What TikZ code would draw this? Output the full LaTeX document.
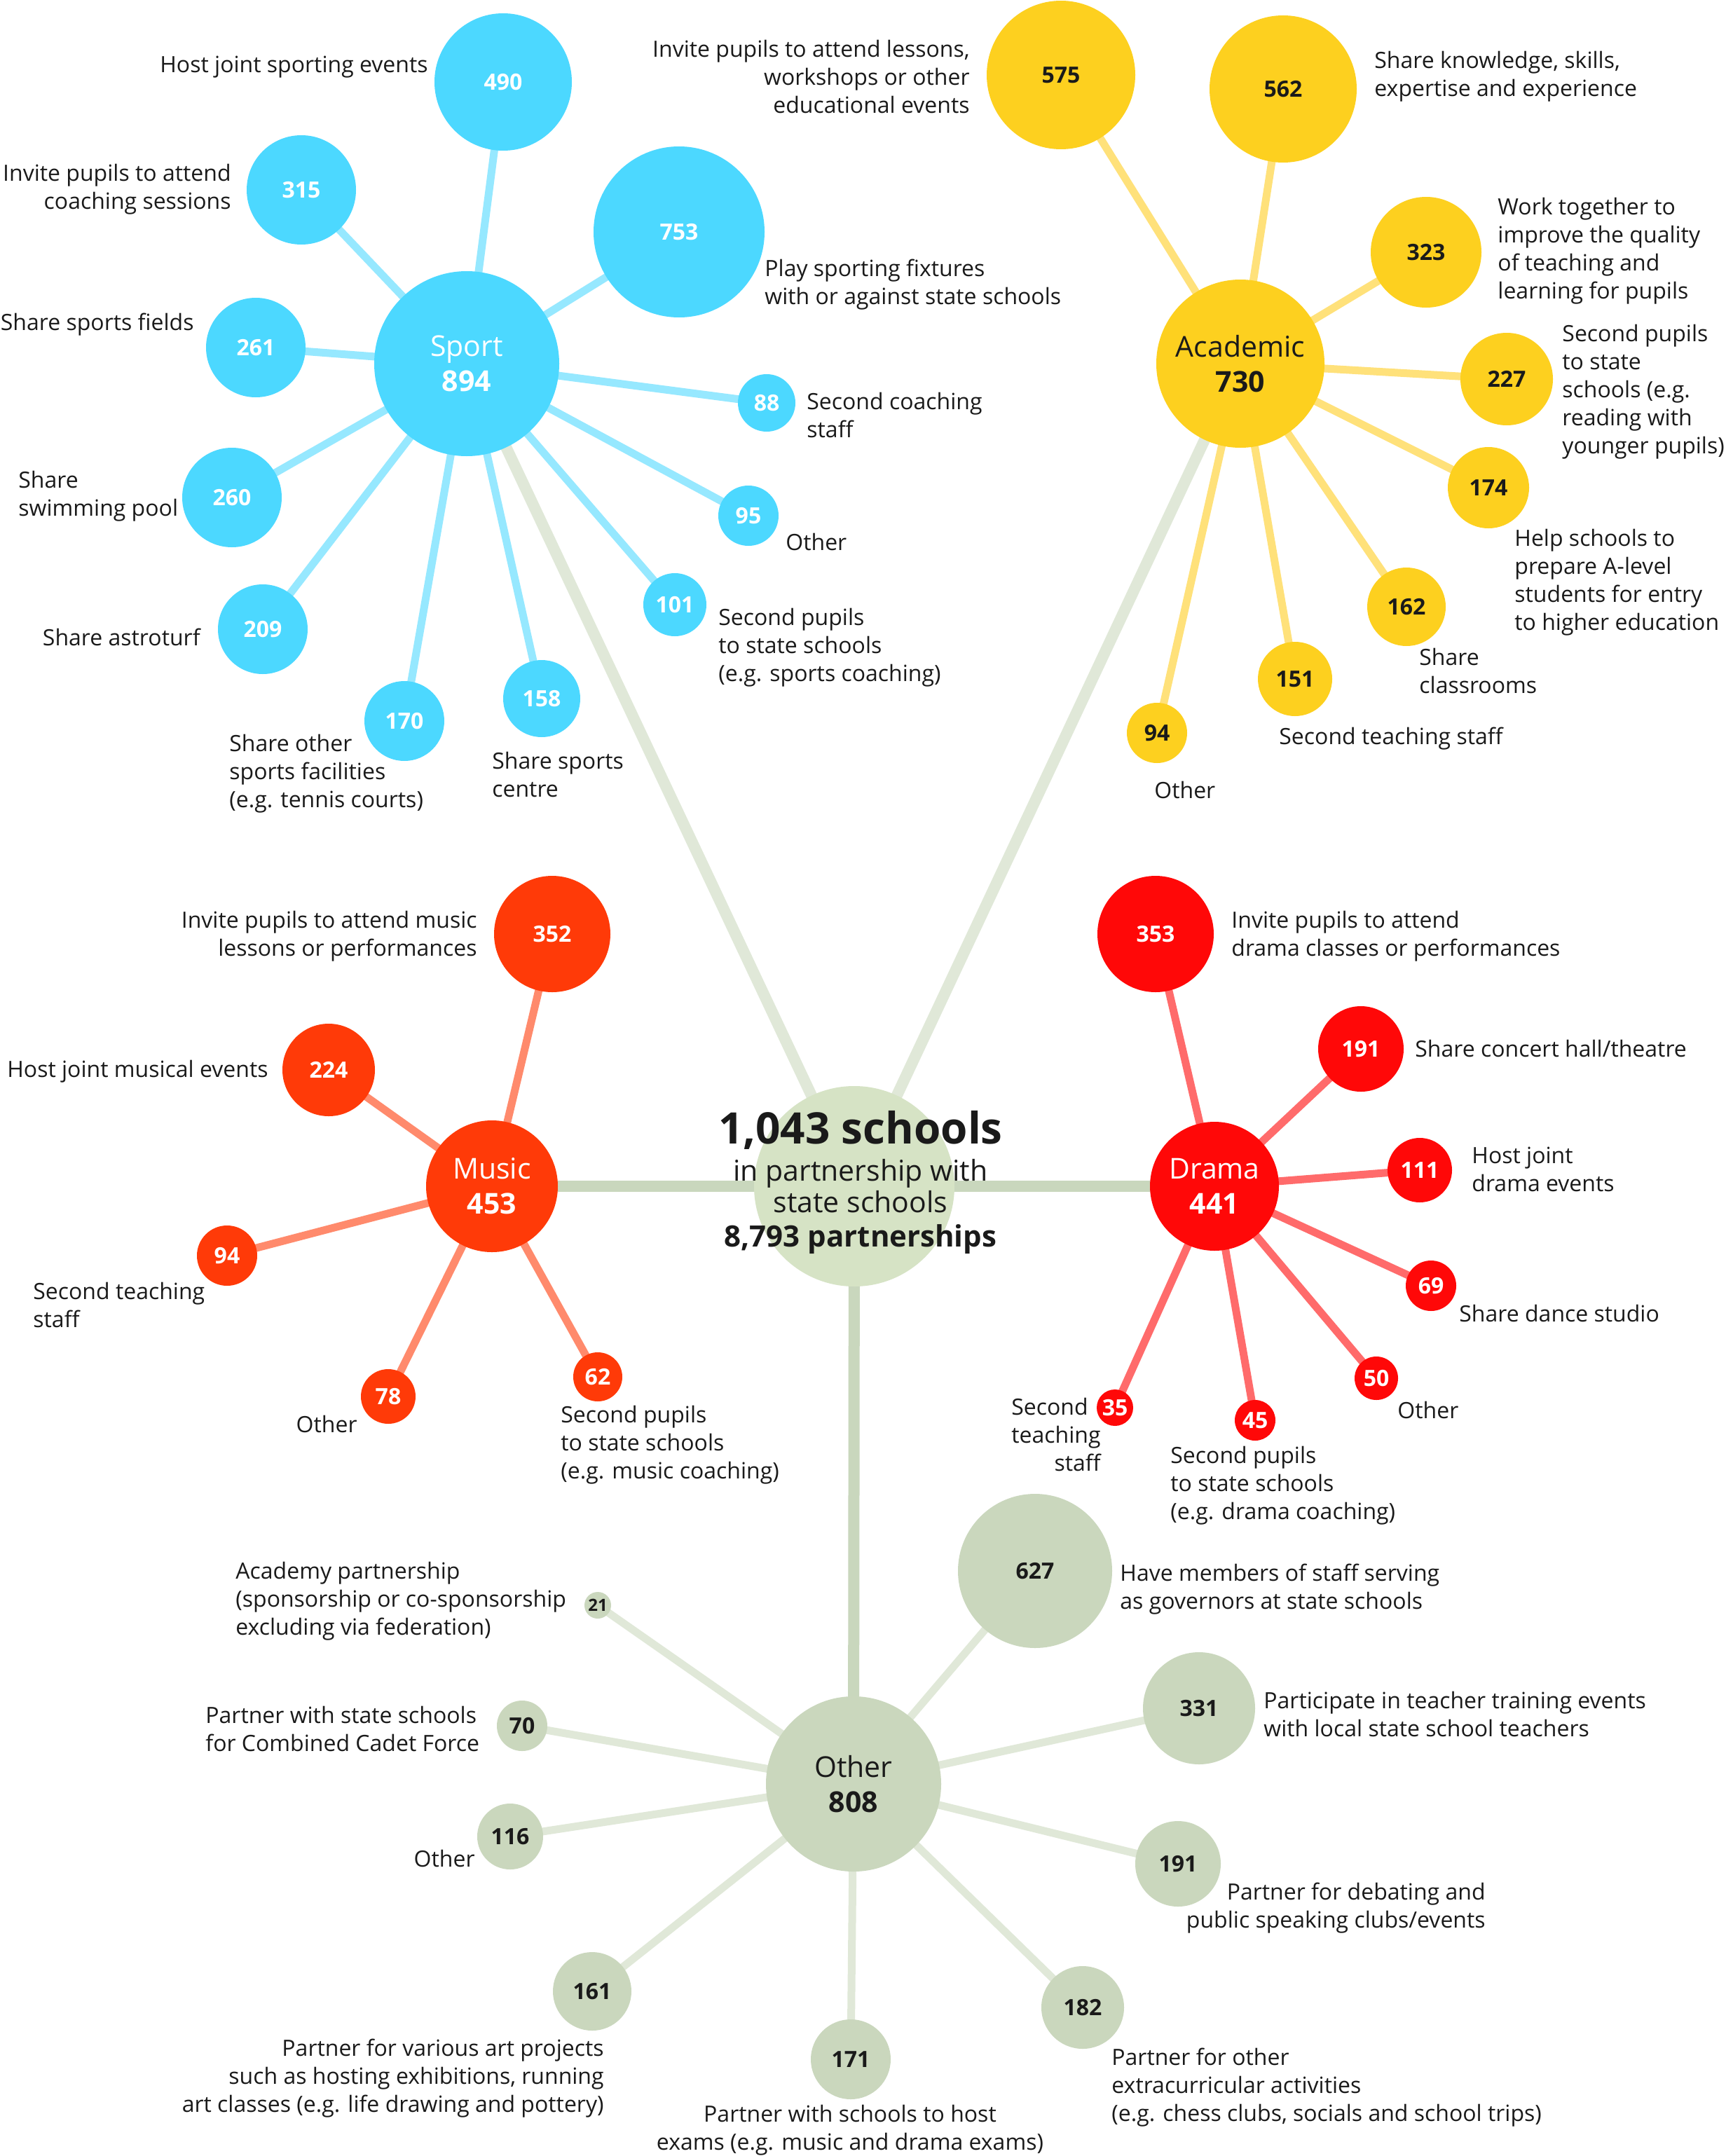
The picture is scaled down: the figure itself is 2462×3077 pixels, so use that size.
\documentclass[tikz,border=0pt]{standalone}
\usepackage{fontspec}
\setmainfont{Open Sans}
\usetikzlibrary{backgrounds}
\definecolor{sportc}{HTML}{4CD8FF}
\definecolor{sportl}{HTML}{96E8FF}
\definecolor{acadc}{HTML}{FDD01F}
\definecolor{acadl}{HTML}{FFE17A}
\definecolor{musicc}{HTML}{FF3A08}
\definecolor{musicl}{HTML}{FF8A6C}
\definecolor{dramac}{HTML}{FF0808}
\definecolor{dramal}{HTML}{FF6B6B}
\definecolor{otherc}{HTML}{CAD7BD}
\definecolor{otherl}{HTML}{E0E8D8}
\definecolor{centerc}{HTML}{D6E3C5}
\definecolor{conndark}{HTML}{C9D7BD}
\definecolor{connlight}{HTML}{E0E8D8}
\definecolor{txt}{HTML}{1A1A1A}
\begin{document}
\begin{tikzpicture}[x=0.5pt,y=-0.5pt,
  lab/.style={font=\fontsize{16}{20}\selectfont, inner sep=0pt, text=txt, yshift=-2pt},
  bub/.style={circle, inner sep=0pt, font=\fontsize{16}{20}\selectfont\bfseries},
  hubnode/.style={circle, inner sep=0pt, align=center, font=\fontsize{20.5}{25}\selectfont},
  sportb/.style={bub, fill=sportc, text=white},
  acadb/.style={bub, fill=acadc, text=txt},
  musicb/.style={bub, fill=musicc, text=white},
  dramab/.style={bub, fill=dramac, text=white},
  otherb/.style={bub, fill=otherc, text=txt},
  spoke/.style={line width=5.5pt},
  conn/.style={line width=8pt}
]
\useasboundingbox (0,0) rectangle (2462,3077);

% ---------- centre ----------
\node[circle, fill=centerc, minimum size=143pt, inner sep=0pt] (center) at (1219,1693) {};
\node[anchor=base, inner sep=0pt, text=txt, font=\fontsize{31}{36}\selectfont\bfseries] (c1) at (1228,1632) {1,043 schools};
\node[anchor=base, inner sep=0pt, text=txt, font=\fontsize{20.5}{25}\selectfont] (c2) at (1228,1685) {in partnership with};
\node[anchor=base, inner sep=0pt, text=txt, font=\fontsize{20.5}{25}\selectfont] (c3) at (1228,1730) {state schools};
\node[anchor=base, inner sep=0pt, text=txt, font=\fontsize{21}{25}\selectfont\bfseries] (c4) at (1228,1779) {8,793 partnerships};

% ---------- Sport ----------
\node[hubnode, fill=sportc, text=white, minimum size=132pt] (sport) at (666,519) {Sport\\\textbf{894}};
\node[sportb, minimum size=98pt] (s490) at (718,117) {490};
\node[sportb, minimum size=78pt] (s315) at (430,271) {315};
\node[sportb, minimum size=122pt] (s753) at (969,331) {753};
\node[sportb, minimum size=71pt] (s261) at (365,496) {261};
\node[sportb, minimum size=41pt] (s88) at (1094,575) {88};
\node[sportb, minimum size=71pt] (s260) at (331,710) {260};
\node[sportb, minimum size=43pt] (s95) at (1068,736) {95};
\node[sportb, minimum size=64pt] (s209) at (375,898) {209};
\node[sportb, minimum size=45pt] (s101) at (963,863) {101};
\node[sportb, minimum size=57pt] (s170) at (577,1029) {170};
\node[sportb, minimum size=55pt] (s158) at (773,997) {158};

\node[lab, anchor=east] (ls490) at (611,92) {Host joint sporting events};
\node[lab, anchor=east, align=right] (ls315) at (330,266) {Invite pupils to attend\\coaching sessions};
\node[lab, anchor=east] (ls261) at (277,459) {Share sports fields};
\node[lab, anchor=west, align=left] (ls260) at (26,704) {Share\\swimming pool};
\node[lab, anchor=east] (ls209) at (286,905) {Share astroturf};
\node[lab, anchor=west, align=left] (ls170) at (327,1100) {Share other\\sports facilities\\(e.g. tennis courts)};
\node[lab, anchor=west, align=left] (ls158) at (702,1101) {Share sports\\centre};
\node[lab, anchor=west, align=left] (ls753) at (1091,402) {Play sporting fixtures\\with or against state schools};
\node[lab, anchor=west, align=left] (ls88) at (1151,588) {Second coaching\\staff};
\node[lab, anchor=west] (ls95) at (1121,769) {Other};
\node[lab, anchor=west, align=left] (ls101) at (1025,920) {Second pupils\\to state schools\\(e.g. sports coaching)};

% ---------- Academic ----------
\node[hubnode, fill=acadc, text=txt, minimum size=120pt] (acad) at (1770,519) {Academic\\\textbf{730}};
\node[acadb, minimum size=106pt] (a575) at (1514,107) {575};
\node[acadb, minimum size=105pt] (a562) at (1831,127) {562};
\node[acadb, minimum size=79pt] (a323) at (2035,360) {323};
\node[acadb, minimum size=66pt] (a227) at (2150,541) {227};
\node[acadb, minimum size=58pt] (a174) at (2124,696) {174};
\node[acadb, minimum size=56pt] (a162) at (2007,866) {162};
\node[acadb, minimum size=53pt] (a151) at (1848,969) {151};
\node[acadb, minimum size=43pt] (a94) at (1651,1046) {94};

\node[lab, anchor=east, align=right] (la575) at (1384,106) {Invite pupils to attend lessons,\\workshops or other\\educational events};
\node[lab, anchor=west, align=left] (la562) at (1961,105) {Share knowledge, skills,\\expertise and experience};
\node[lab, anchor=west, align=left] (la323) at (2137,354) {Work together to\\improve the quality\\of teaching and\\learning for pupils};
\node[lab, anchor=west, align=left] (la227) at (2229,555) {Second pupils\\to state\\schools (e.g.\\reading with\\younger pupils)};
\node[lab, anchor=west, align=left] (la174) at (2161,827) {Help schools to\\prepare A-level\\students for entry\\to higher education};
\node[lab, anchor=west, align=left] (la162) at (2025,953) {Share\\classrooms};
\node[lab, anchor=west] (la151) at (1825,1050) {Second teaching staff};
\node[lab, anchor=west] (la94) at (1647,1123) {Other};

% ---------- Music ----------
\node[hubnode, fill=musicc, text=white, minimum size=94pt] (music) at (702,1693) {Music\\\textbf{453}};
\node[musicb, minimum size=83pt] (m352) at (788,1333) {352};
\node[musicb, minimum size=66pt] (m224) at (469,1527) {224};
\node[musicb, minimum size=43pt] (m94) at (324,1792) {94};
\node[musicb, minimum size=39pt] (m78) at (554,1993) {78};
\node[musicb, minimum size=35pt] (m62) at (853,1965) {62};

\node[lab, anchor=east, align=right] (lm352) at (681,1332) {Invite pupils to attend music\\lessons or performances};
\node[lab, anchor=east] (lm224) at (383,1525) {Host joint musical events};
\node[lab, anchor=west, align=left] (lm94) at (47,1858) {Second teaching\\staff};
\node[lab, anchor=east] (lm78) at (510,2028) {Other};
\node[lab, anchor=west, align=left] (lm62) at (800,2058) {Second pupils\\to state schools\\(e.g. music coaching)};

% ---------- Drama ----------
\node[hubnode, fill=dramac, text=white, minimum size=92pt] (drama) at (1733,1693) {Drama\\\textbf{441}};
\node[dramab, minimum size=83pt] (d353) at (1649,1333) {353};
\node[dramab, minimum size=61pt] (d191) at (1942,1497) {191};
\node[dramab, minimum size=46pt] (d111) at (2026,1670) {111};
\node[dramab, minimum size=36pt] (d69) at (2042,1835) {69};
\node[dramab, minimum size=31pt] (d50) at (1964,1967) {50};
\node[dramab, minimum size=29pt] (d45) at (1791,2027) {45};
\node[dramab, minimum size=26pt] (d35) at (1591,2009) {35};

\node[lab, anchor=west, align=left] (ld353) at (1757,1332) {Invite pupils to attend\\drama classes or performances};
\node[lab, anchor=west] (ld191) at (2019,1492) {Share concert hall/theatre};
\node[lab, anchor=west, align=left] (ld111) at (2100,1665) {Host joint\\drama events};
\node[lab, anchor=west] (ld69) at (2082,1870) {Share dance studio};
\node[lab, anchor=west] (ld50) at (1994,2008) {Other};
\node[lab, anchor=west, align=left] (ld45) at (1670,2116) {Second pupils\\to state schools\\(e.g. drama coaching)};
\node[lab, anchor=east, align=right] (ld35) at (1571,2043) {Second\hspace*{9pt}\\teaching\\staff};

% ---------- Other ----------
\node[hubnode, fill=otherc, text=txt, minimum size=125pt] (other) at (1218,2546) {Other\\\textbf{808}};
\node[otherb, minimum size=110pt] (o627) at (1477,2242) {627};
\node[otherb, minimum size=19pt, font=\fontsize{12}{14}\selectfont\bfseries] (o21) at (853,2291) {21};
\node[otherb, minimum size=80pt] (o331) at (1711,2438) {331};
\node[otherb, minimum size=36pt] (o70) at (745,2463) {70};
\node[otherb, minimum size=47pt] (o116) at (728,2621) {116};
\node[otherb, minimum size=61pt] (o191) at (1681,2660) {191};
\node[otherb, minimum size=56pt] (o161) at (845,2842) {161};
\node[otherb, minimum size=57pt] (o171) at (1214,2939) {171};
\node[otherb, minimum size=59pt] (o182) at (1545,2865) {182};

\node[lab, anchor=west, align=left] (lo627) at (1598,2264) {Have members of staff serving\\as governors at state schools};
\node[lab, anchor=west, align=left] (lo21) at (336,2281) {Academy partnership\\(sponsorship or co-sponsorship\\excluding via federation)};
\node[lab, anchor=west, align=left] (lo331) at (1803,2442) {Participate in teacher training events\\with local state school teachers};
\node[lab, anchor=west, align=left] (lo70) at (293,2463) {Partner with state schools\\for Combined Cadet Force};
\node[lab, anchor=east] (lo116) at (678,2648) {Other};
\node[lab, anchor=east, align=right] (lo191) at (2120,2719) {Partner for debating and\\public speaking clubs/events};
\node[lab, anchor=east, align=right] (lo161) at (862,2962) {Partner for various art projects\\such as hosting exhibitions, running\\art classes (e.g. life drawing and pottery)};
\node[lab, anchor=center, align=center] (lo171) at (1213,3036) {Partner with schools to host\\exams (e.g. music and drama exams)};
\node[lab, anchor=west, align=left] (lo182) at (1586,2975) {Partner for other\\extracurricular activities\\(e.g. chess clubs, socials and school trips)};

% ---------- connectors ----------
\begin{pgfonlayer}{background}
\fill[white] (0,0) rectangle (2462,3077);
\draw[conn, connlight] (center.center) -- (sport.center);
\draw[conn, connlight] (center.center) -- (acad.center);
\draw[conn, conndark] (center.center) -- (music.center);
\draw[conn, conndark] (center.center) -- (drama.center);
\draw[conn, conndark] (center.center) -- (other.center);
\foreach \c in {s490,s315,s753,s261,s88,s260,s95,s209,s101,s170,s158}
  \draw[spoke, sportl] (sport.center) -- (\c.center);
\foreach \c in {a575,a562,a323,a227,a174,a162,a151,a94}
  \draw[spoke, acadl] (acad.center) -- (\c.center);
\foreach \c in {m352,m224,m94,m78,m62}
  \draw[spoke, musicl] (music.center) -- (\c.center);
\foreach \c in {d353,d191,d111,d69,d50,d45,d35}
  \draw[spoke, dramal] (drama.center) -- (\c.center);
\foreach \c in {o627,o21,o331,o70,o116,o191,o161,o171,o182}
  \draw[spoke, otherl] (other.center) -- (\c.center);
\end{pgfonlayer}
\end{tikzpicture}
\end{document}
